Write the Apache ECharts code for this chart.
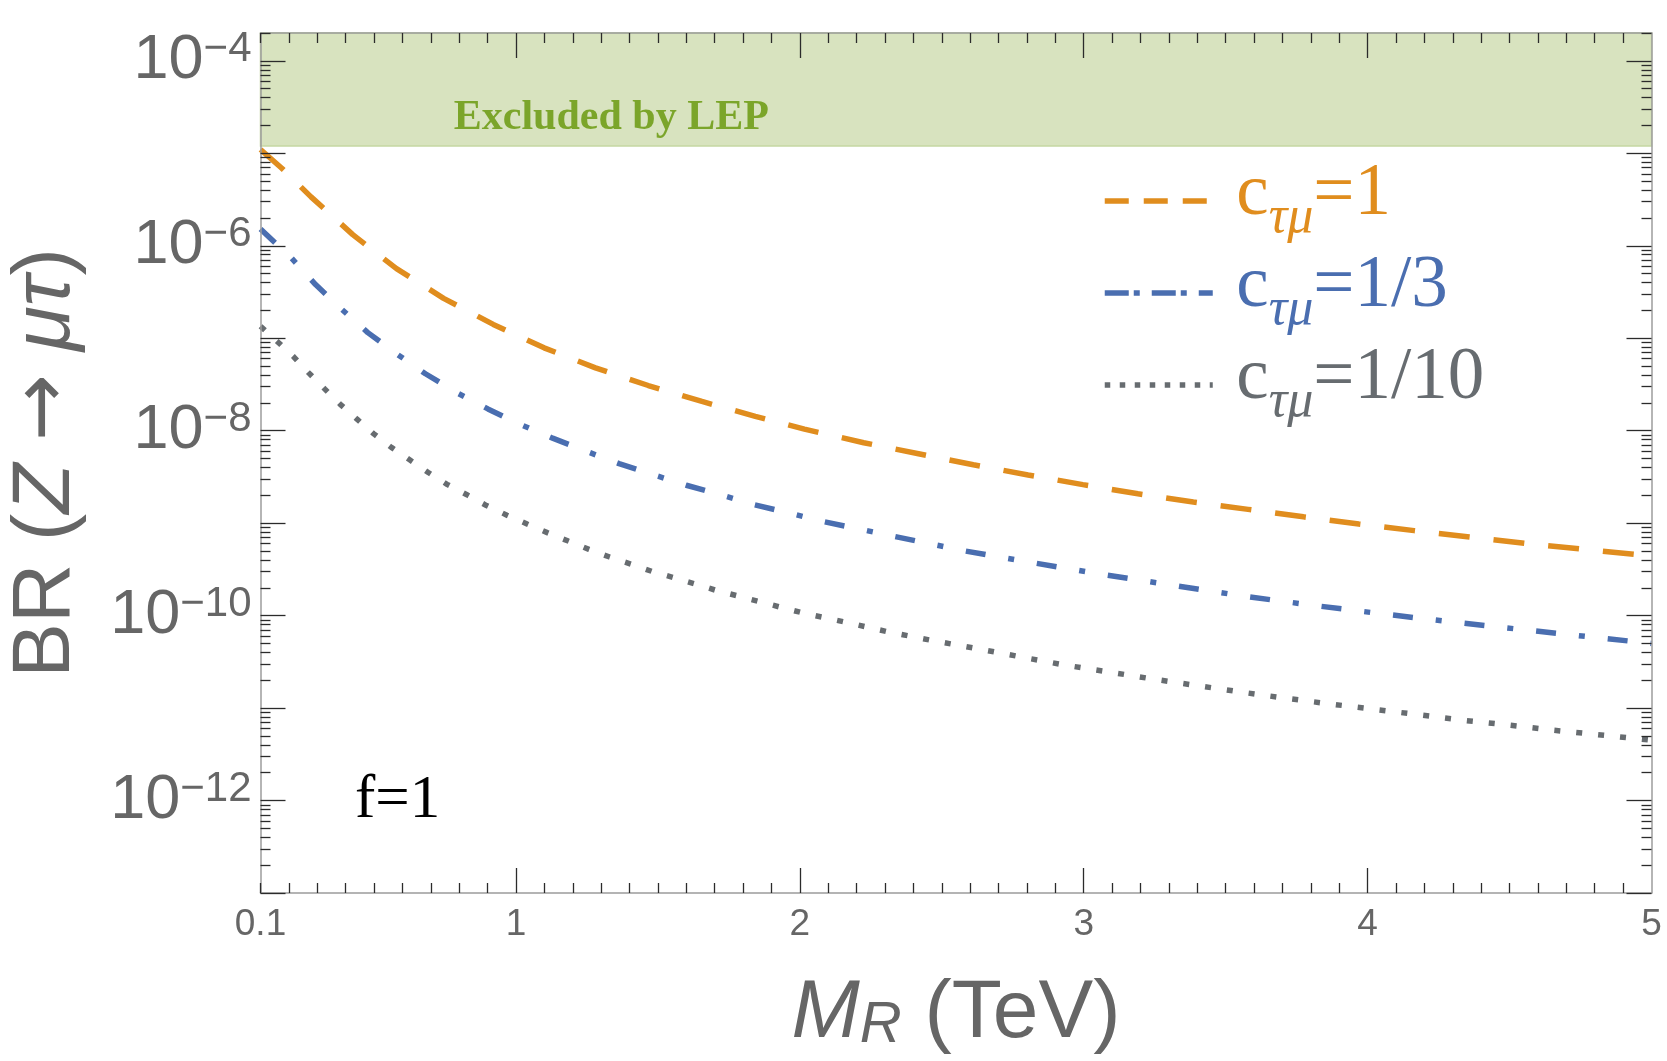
<!DOCTYPE html>
<html>
<head>
<meta charset="utf-8">
<script src="https://cdn.jsdelivr.net/npm/echarts@6/dist/echarts.min.js"></script>
<style>
  html, body { margin: 0; padding: 0; background: #fff; }
  #chart { width: 1667px; height: 1061px; }
</style>
</head>
<body>
<div id="chart"></div>
<script>
// M_R (TeV) and BR(Z -> mu tau)
const MR_C1 = [0.1, 0.175, 0.278, 0.425, 0.579, 0.745, 0.92, 1.099, 1.28, 1.466, 1.655, 1.843, 2.016, 2.225, 2.418, 2.611, 2.804, 2.997, 3.191, 3.386, 3.579, 3.774, 3.969, 4.164, 4.359, 4.553, 4.748, 5.0];
const BR_C1 = [1.10e-5, 6.9e-6, 3.38e-6, 1.32e-6, 5.66e-7, 2.70e-7, 1.41e-7, 7.87e-8, 4.78e-8, 3.08e-8, 2.07e-8, 1.43e-8, 1.04e-8, 7.41e-9, 5.64e-9, 4.28e-9, 3.32e-9, 2.61e-9, 2.08e-9, 1.69e-9, 1.41e-9, 1.17e-9, 9.8e-10, 8.3e-10, 7.1e-10, 6.05e-10, 5.26e-10, 4.42e-10];

const MR_C3 = [0.1, 0.21, 0.294, 0.385, 0.478, 0.579, 0.681, 0.789, 0.901, 1.012, 1.129, 1.245, 1.363, 1.48, 1.6, 1.72, 1.84, 1.962, 2.083, 2.326, 2.576, 2.821, 3.065, 3.314, 3.56, 3.809, 4.057, 4.306, 4.555, 5.0];
const BR_C3 = [1.52e-6, 7.31e-7, 3.80e-7, 2.07e-7, 1.15e-7, 6.79e-8, 4.13e-8, 2.60e-8, 1.72e-8, 1.18e-8, 8.30e-9, 6.03e-9, 4.40e-9, 3.37e-9, 2.57e-9, 2.03e-9, 1.58e-9, 1.29e-9, 1.04e-9, 7.26e-10, 5.04e-10, 3.73e-10, 2.79e-10, 2.13e-10, 1.63e-10, 1.29e-10, 1.04e-10, 8.48e-11, 7.0e-11, 5.0e-11];

const MR_C10 = [0.1, 0.158, 0.217, 0.269, 0.326, 0.38, 0.439, 0.498, 0.561, 0.624, 0.691, 0.757, 0.827, 0.896, 0.968, 1.039, 1.11, 1.184, 1.257, 1.33, 1.406, 1.48, 1.555, 1.631, 1.706, 1.782, 1.857, 1.933, 2.01, 2.16, 2.313, 2.469, 2.625, 2.78, 2.932, 3.088, 3.244, 3.4, 3.554, 3.709, 3.866, 4.021, 4.177, 4.333, 4.489, 4.645, 4.801, 5.0];
const BR_C10 = [1.35e-7, 9.3e-8, 6.3e-8, 4.25e-8, 2.83e-8, 1.94e-8, 1.34e-8, 9.3e-9, 6.6e-9, 4.88e-9, 3.53e-9, 2.63e-9, 2.03e-9, 1.55e-9, 1.22e-9, 9.8e-10, 7.9e-10, 6.4e-10, 5.2e-10, 4.3e-10, 3.6e-10, 3.0e-10, 2.58e-10, 2.2e-10, 1.87e-10, 1.63e-10, 1.42e-10, 1.23e-10, 1.07e-10, 8.5e-11, 6.65e-11, 5.36e-11, 4.39e-11, 3.57e-11, 2.92e-11, 2.46e-11, 2.06e-11, 1.75e-11, 1.49e-11, 1.28e-11, 1.11e-11, 9.7e-12, 8.5e-12, 7.4e-12, 6.6e-12, 5.8e-12, 5.2e-12, 4.5e-12];

const SERIES_NAMES = ['1', '1/3', '1/10'];
const LEP_LIMIT = 1.2e-5;
const X_MIN = 0.1, X_MAX = 5;
const Y_MIN = 1e-13, Y_MAX = 2e-4;
const X_LABELS = [0.1, 1, 2, 3, 4, 5];
const X_MAJOR = [1, 2, 3, 4];
const Y_LABEL_EXP = [-12, -10, -8, -6, -4];

const COLORS = ['#e08d1e', '#4a6eb0', '#676c70'];
const PLOT_DASH = [[31, 24], [20, 23, 6, 23], [6, 16]];
const LEGEND_DASH = [[24, 15], [24, 5, 6, 12], [5.5, 9.5]];
const SANS = "'Liberation Sans', Arial, sans-serif";
const SERIF = "'Liberation Serif', 'Times New Roman', serif";
const FRAME = '#9c9c9c';
const TICK = '#2b2b2b';
const TXT = '#666666';

// y axis works in log10 units
const yLo = Math.log10(Y_MIN), yHi = Math.log10(Y_MAX);

const xMinor = [];
for (let i = 1; i < 50; i++) if (i % 10) xMinor.push(i / 10);
const yMajor = [], yMinor = [];
for (let n = -13; n <= -4; n++) {
  yMajor.push(n);
  for (let k = 2; k <= 9; k++) {
    const v = n + Math.log10(k);
    if (v <= yHi + 1e-9) yMinor.push(v);
  }
}

function xAxisDef(position, ticks, len, extra) {
  return Object.assign({
    type: 'value', min: X_MIN, max: X_MAX, position: position, z: 10,
    axisLine: { show: true, onZero: false, lineStyle: { color: FRAME, width: 1.5 } },
    axisTick: { show: true, inside: true, length: len, customValues: ticks, lineStyle: { color: TICK, width: 1.3 } },
    axisLabel: { show: false },
    splitLine: { show: false }
  }, extra || {});
}
function yAxisDef(position, ticks, len, extra) {
  return Object.assign({
    type: 'value', min: yLo, max: yHi, position: position, z: 10,
    axisLine: { show: true, onZero: false, lineStyle: { color: FRAME, width: 1.5 } },
    axisTick: { show: true, inside: true, length: len, customValues: ticks, lineStyle: { color: TICK, width: 1.3 } },
    axisLabel: { show: false },
    splitLine: { show: false }
  }, extra || {});
}

function lineSeries(i, mr, br) {
  return {
    name: SERIES_NAMES[i], type: 'line', xAxisIndex: 0, yAxisIndex: 0,
    data: mr.map((m, k) => [m, Math.log10(br[k])]),
    showSymbol: false, symbol: 'none', smooth: false,
    lineStyle: { color: COLORS[i], width: 5.5, type: PLOT_DASH[i], cap: 'butt' },
    itemStyle: { color: COLORS[i] }, silent: true, z: 3
  };
}

// one legend block per curve, 92px apart
function legendDef(i) {
  const rich = {
    z: { width: 18.5, lineHeight: 86, fontSize: 10 },
    c: { fontFamily: SERIF, fontSize: 73, lineHeight: 60, verticalAlign: 'top', color: COLORS[i] },
    s: { fontFamily: SERIF, fontSize: 52, fontStyle: 'italic', lineHeight: 60, verticalAlign: 'bottom', color: COLORS[i] }
  };
  return {
    orient: 'vertical', left: 1102, top: 158 + 92 * i, padding: 0,
    itemWidth: 108, itemHeight: 20, selectedMode: false,
    data: [{
      name: SERIES_NAMES[i],
      itemStyle: { opacity: 0 },
      lineStyle: { type: LEGEND_DASH[i], width: 5.5, color: COLORS[i], cap: 'butt', opacity: 1 }
    }],
    formatter: name => '{z|\u200b}{c|c}{s|τμ}{c|=' + name + '}',
    textStyle: { rich: rich }
  };
}

const series = [
  lineSeries(0, MR_C1, BR_C1),
  lineSeries(1, MR_C3, BR_C3),
  lineSeries(2, MR_C10, BR_C10)
];
series[0].markArea = {
  silent: true,
  itemStyle: { color: '#d8e3bf', borderColor: '#c5d7a2', borderWidth: 1.5 },
  label: {
    show: true, position: [194, 86], align: 'left', verticalAlign: 'middle',
    fontFamily: SERIF, fontWeight: 'bold', fontSize: 42, color: '#7ba52a'
  },
  data: [[
    { name: 'Excluded by LEP', xAxis: X_MIN, yAxis: Math.log10(LEP_LIMIT) },
    { xAxis: X_MAX, yAxis: yHi }
  ]]
};

const option = {
  animation: false,
  backgroundColor: '#ffffff',
  grid: { left: 260.5, right: 15.5, top: 33, bottom: 168, outerBoundsMode: 'none' },
  title: [{
    text: 'f=1', left: 355, top: 770.6, padding: 0,
    textStyle: { fontFamily: SERIF, fontSize: 61, fontWeight: 'normal', color: '#000', lineHeight: 61 }
  }],
  legend: [legendDef(0), legendDef(1), legendDef(2)],
  xAxis: [
    xAxisDef('bottom', X_MAJOR, 25, {
      axisLabel: {
        show: true, customValues: X_LABELS, margin: 13,
        fontFamily: SANS, fontSize: 37, color: TXT,
        formatter: v => (v === 0.1 ? '0.1' : String(v))
      },
      name: '{m|M}{r|R}{n| (TeV)}', nameLocation: 'middle', nameGap: 80,
      nameTextStyle: {
        rich: {
          m: { fontFamily: SANS, fontSize: 82, fontStyle: 'italic', lineHeight: 82, color: TXT },
          r: { fontFamily: SANS, fontSize: 58, fontStyle: 'italic', lineHeight: 41.4, verticalAlign: 'bottom', color: TXT },
          n: { fontFamily: SANS, fontSize: 82, lineHeight: 82, color: TXT }
        }
      }
    }),
    xAxisDef('bottom', xMinor, 10, { axisLine: { show: false } }),
    xAxisDef('top', X_MAJOR, 25),
    xAxisDef('top', xMinor, 10, { axisLine: { show: false } })
  ],
  yAxis: [
    yAxisDef('left', yMajor, 25, {
      axisLabel: {
        show: true, customValues: Y_LABEL_EXP, margin: 9,
        formatter: v => '{b|10}{s|\u2212' + Math.round(-v) + '}',
        rich: {
          b: { fontFamily: SANS, fontSize: 63, lineHeight: 64, color: TXT },
          s: { fontFamily: SANS, fontSize: 42, lineHeight: 36, verticalAlign: 'top', color: TXT }
        }
      },
      name: '{n|BR (}{i|Z}{n| }{a|\u2192}{n| }{i|μτ}{n|)}', nameLocation: 'middle', nameRotate: 90, nameGap: 173,
      nameTextStyle: {
        rich: {
          n: { fontFamily: SANS, fontSize: 82, lineHeight: 82, color: TXT },
          a: { fontFamily: "'DejaVu Sans', sans-serif", fontSize: 80, lineHeight: 82, color: TXT },
          i: { fontFamily: SANS, fontSize: 82, fontStyle: 'italic', lineHeight: 82, color: TXT }
        }
      }
    }),
    yAxisDef('left', yMinor, 10, { axisLine: { show: false } }),
    yAxisDef('right', yMajor, 25),
    yAxisDef('right', yMinor, 10, { axisLine: { show: false } })
  ],
  series: series
};

const chart = echarts.init(document.getElementById('chart'), null, { renderer: 'canvas' });
chart.setOption(option);
</script>
</body>
</html>
